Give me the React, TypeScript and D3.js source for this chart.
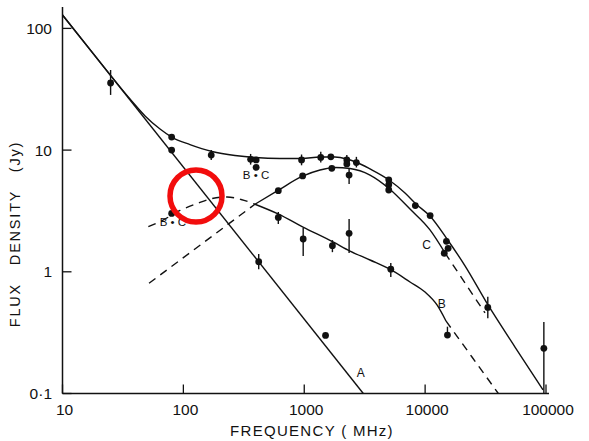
import React from 'react';
import * as d3 from 'd3';

// ---- axis ticks ----
const xTicks = [10, 100, 1000, 10000, 100000];
const xTickLabels = ['10', '100', '1000', '10000', '100000'];
const yTicks = [0.1, 1, 10, 100];
const yTickLabels = ['0·1', '1', '10', '100'];

// ---- curves: [frequency MHz, flux Jy] ----
const curveA: [number, number][] = [[10, 128.9], [3079, 0.1]];
const curveTotal: [number, number][] = [
  [10, 128.9], [16.9, 66.9], [36.2, 26.3], [48.2, 19.1], [64.1, 14.9], [80, 12.8],
  [113.4, 11.1], [172.5, 9.74], [267, 9.03], [391, 8.69], [630, 8.53], [958, 8.53],
  [1350, 8.78], [1796, 8.78], [2258, 8.45], [2732, 7.91], [3499, 7.0], [5025, 5.68],
  [6816, 4.44], [8404, 3.61], [10970, 2.87], [15170, 1.86], [21380, 1.12],
  [33130, 0.534], [55400, 0.241], [94460, 0.107],
];
const curveC: [number, number][] = [
  [391, 3.59], [607, 4.66], [958, 6.07], [1350, 6.86], [1796, 7.19], [2391, 7.06],
  [3499, 6.24], [5025, 4.84], [7497, 3.28], [10970, 2.21], [14600, 1.43],
];
const curveCDashHigh: [number, number][] = [[14600, 1.43], [21380, 0.809], [31290, 0.459]];
const curveCDashLow: [number, number][] = [[52, 0.805], [391, 3.59]];
const curveB: [number, number][] = [
  [391, 3.59], [607, 2.99], [977, 2.33], [1729, 1.76], [2391, 1.48], [3499, 1.25],
  [5120, 1.05], [7497, 0.825], [9977, 0.682], [12540, 0.534], [14880, 0.394],
];
const curveBDashHigh: [number, number][] = [[14880, 0.394], [24420, 0.1995], [40310, 0.1]];
const curveBDashLow: [number, number][] = [
  [51.3, 2.35], [67.8, 2.66], [93.8, 3.19], [129.7, 3.64], [172.5, 4.0], [229.6, 4.12],
  [300, 3.93], [391, 3.59],
];

// ---- measured points: [freq, flux, errLow?, errHigh?] ----
const pointsTotal: number[][] = [
  [25, 35.6, 28.4, 45.5], [80, 12.8], [170, 9.1, 8.3, 10.0], [360, 8.4, 7.6, 9.3],
  [400, 8.3], [950, 8.3, 7.5, 9.2], [1370, 8.7, 7.9, 9.7], [1660, 8.8],
  [2250, 8.3, 7.5, 9.1], [2250, 7.7], [2700, 7.9, 7.2, 8.8], [5000, 5.7], [5000, 5.2],
  [8300, 3.5], [11000, 2.9], [15000, 1.78], [15500, 1.56], [33000, 0.51, 0.415, 0.624],
  [96000, 0.235, 0.1, 0.387],
];
const pointsC: number[][] = [
  [610, 4.64], [970, 6.13], [1690, 7.09], [2350, 6.24, 5.27, 6.99], [5000, 4.7], [14400, 1.42],
];
const pointsB: number[][] = [
  [610, 2.8, 2.47, 3.1], [980, 1.86, 1.35, 2.29], [1710, 1.64, 1.45, 1.82],
  [2350, 2.07, 1.43, 2.72], [5200, 1.05, 0.906, 1.18], [15300, 0.302, 0.302, 0.354],
];
const pointsA: number[][] = [[80, 10.0], [420, 1.21, 1.05, 1.4], [1500, 0.3]];
const pointsBC: number[][] = [[80, 3.02], [400, 7.22]];

// ---- curve labels: [text, freq, flux] ----
const curveLabels: [string, number, number][] = [
  ['A', 2931, 0.149], ['B', 13710, 0.551], ['C', 10300, 1.66],
];
const bcLabels: [string, number, number][] = [['B • C', 399, 6.24], ['B • C', 82, 2.58]];
const highlight: [number, number] = [127.2, 4.2];

const FONT = '"Liberation Sans", Arial, Helvetica, sans-serif';
const INK = '#111';

export default function App() {
  const x = d3.scaleLog().domain([10, 100000]).range([62.5, 546]);
  const y = d3.scaleLog().domain([0.1, 100]).range([393.5, 28.4]);
  const line = d3
    .line<[number, number]>()
    .x((d) => x(d[0]))
    .y((d) => y(d[1]))
    .curve(d3.curveMonotoneX);

  const solid = [curveA, curveTotal, curveC, curveB];
  const dashed = [curveCDashHigh, curveCDashLow, curveBDashHigh, curveBDashLow];
  const allPoints = [...pointsTotal, ...pointsC, ...pointsB, ...pointsA, ...pointsBC];

  return (
    <svg
      width={589}
      height={441}
      style={{ position: 'absolute', left: 0, top: 0, background: '#fff' }}
    >
      <rect width={589} height={441} fill="#fff" />
      {/* axes */}
      <line x1={x(10)} x2={x(10)} y1={7} y2={y(0.1)} stroke={INK} strokeWidth={1.5} />
      <line x1={x(10)} x2={549} y1={y(0.1)} y2={y(0.1)} stroke={INK} strokeWidth={1.5} />
      {yTicks.map((t, i) => (
        <g key={'yt' + i}>
          <line x1={x(10)} x2={x(10) + 9} y1={y(t)} y2={y(t)} stroke={INK} strokeWidth={1.3} />
          <text
            x={52}
            y={y(t)}
            dy="0.36em"
            textAnchor="end"
            fontFamily={FONT}
            fontSize={15.5}
            fill={INK}
          >
            {yTickLabels[i]}
          </text>
        </g>
      ))}
      {xTicks.map((t, i) => (
        <g key={'xt' + i}>
          <line x1={x(t)} x2={x(t)} y1={y(0.1)} y2={y(0.1) - 9} stroke={INK} strokeWidth={1.3} />
          <text
            x={x(t) + 2}
            y={409}
            dy="0.36em"
            textAnchor="middle"
            fontFamily={FONT}
            fontSize={15.5}
            fill={INK}
          >
            {xTickLabels[i]}
          </text>
        </g>
      ))}
      <text
        x={312}
        y={431}
        dy="0.36em"
        textAnchor="middle"
        fontFamily={FONT}
        fontSize={15}
        letterSpacing={1.3}
        fill={INK}
      >
        FREQUENCY ( MHz)
      </text>
      <text
        transform="translate(15,234) rotate(-90)"
        dy="0.36em"
        textAnchor="middle"
        fontFamily={FONT}
        fontSize={14.5}
        letterSpacing={1.8}
        wordSpacing={12}
        fill={INK}
      >
        FLUX DENSITY (Jy)
      </text>

      {/* curves */}
      {solid.map((c, i) => (
        <path key={'s' + i} d={line(c) || ''} fill="none" stroke={INK} strokeWidth={1.4} />
      ))}
      {dashed.map((c, i) => (
        <path
          key={'d' + i}
          d={line(c) || ''}
          fill="none"
          stroke={INK}
          strokeWidth={1.4}
          strokeDasharray="8,6"
        />
      ))}

      {/* points with error bars */}
      {allPoints.map((p, i) => (
        <g key={'p' + i}>
          {p.length > 2 && (
            <line
              x1={x(p[0])}
              x2={x(p[0])}
              y1={y(p[2])}
              y2={y(p[3])}
              stroke={INK}
              strokeWidth={1.4}
            />
          )}
          <circle cx={x(p[0])} cy={y(p[1])} r={3.4} fill={INK} />
        </g>
      ))}

      {/* labels */}
      {curveLabels.map((l, i) => (
        <text
          key={'cl' + i}
          x={x(l[1])}
          y={y(l[2])}
          dy="0.36em"
          textAnchor="middle"
          fontFamily={FONT}
          fontSize={12}
          fill={INK}
        >
          {l[0]}
        </text>
      ))}
      {bcLabels.map((l, i) => (
        <text
          key={'bc' + i}
          x={x(l[1])}
          y={y(l[2])}
          dy="0.36em"
          textAnchor="middle"
          fontFamily={FONT}
          fontSize={11.5}
          fill={INK}
        >
          {l[0]}
        </text>
      ))}

      {/* red highlight ring */}
      <circle
        cx={x(highlight[0])}
        cy={y(highlight[1])}
        r={26}
        fill="none"
        stroke="#f20d0d"
        strokeWidth={5.5}
      />
    </svg>
  );
}
